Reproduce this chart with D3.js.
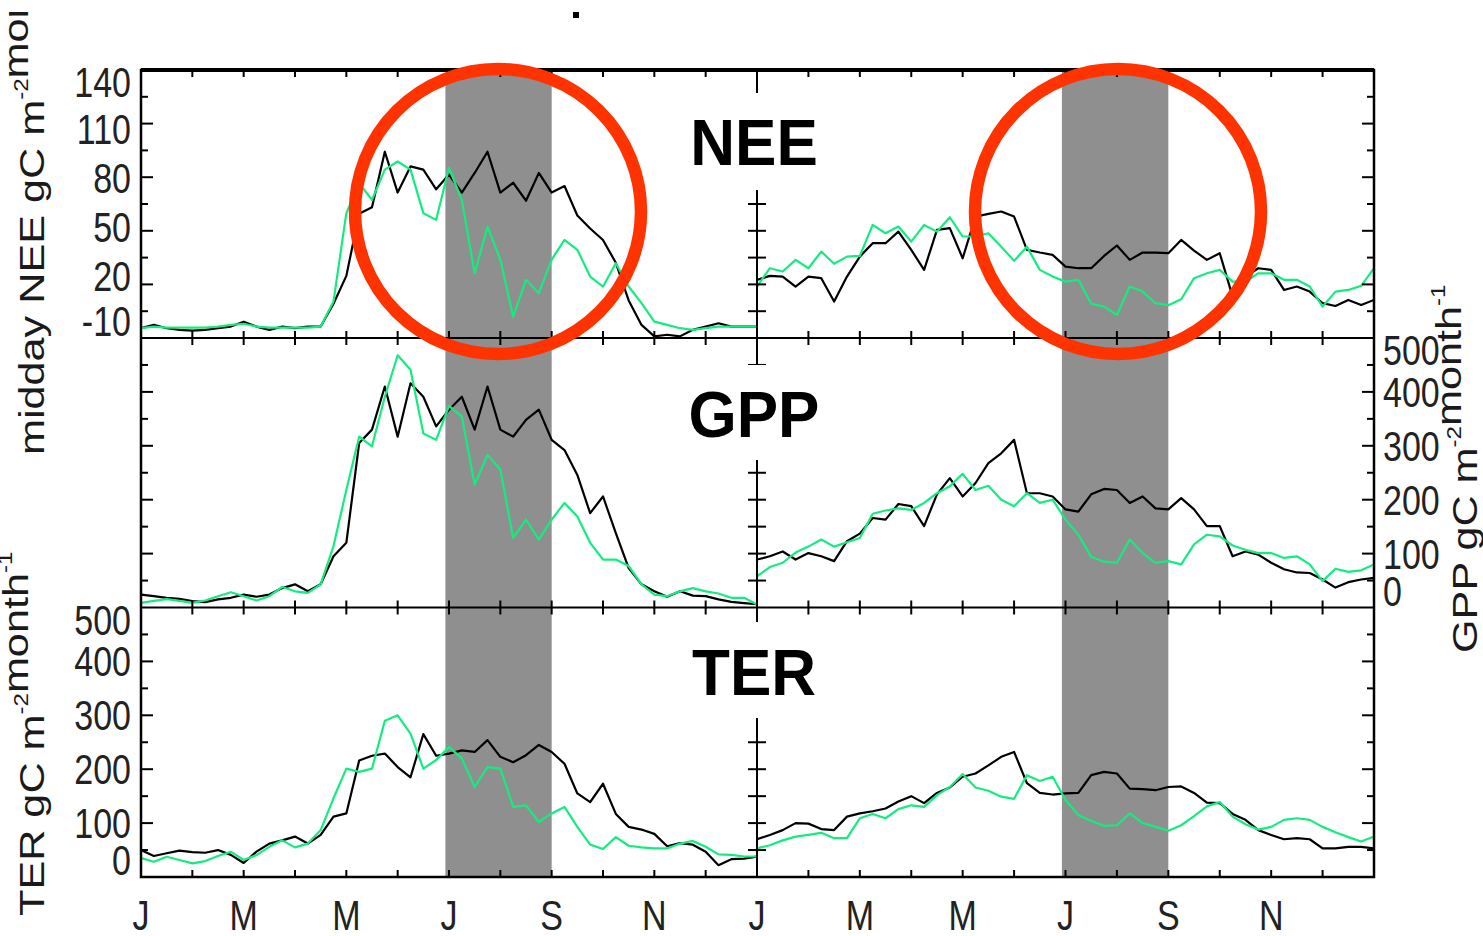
<!DOCTYPE html>
<html>
<head>
<meta charset="utf-8">
<script src="https://cdn.jsdelivr.net/npm/d3@7"></script>
<style>
  body { margin: 0; background: #fff; }
  svg { display: block; }
</style>
</head>
<body>
<div id="chart"></div>
<script>
// ===================== DATA =====================
// sample times: weeks within each year, in months from Jan 1
const sampleMonths = d3.range(0, 12.001, 0.25);

// midday NEE (left year / right year), black = observed, green = model
const neeLeftBlack = [-12,-10,-12,-13,-13.5,-13,-12,-11,-8,-11,-13,-11,-12,-11,-11,3,20,58,62,96,71,87,85,73,82,71,83,96,71,77,66,83,71,75,57,49,42,28,5,-10,-17,-16,-17,-13,-11,-9,-11,-11,-11];
const neeLeftGreen = [-12,-11,-11.6,-11.6,-11.6,-11.6,-11,-10,-9.3,-11,-11.6,-11.6,-11.6,-11.6,-11,4.3,58.4,76.8,66.5,85,90,85,58.4,54.3,86,66.5,21.6,50,30,-5,17.6,9.4,30,42,36,19.6,13.5,27.8,13.5,3.3,-8,-10,-12,-13,-12,-11,-11,-11,-11];
const neeRightBlack = [17.6,20,19.6,13.5,19.6,18.6,4.3,19.6,31.8,40,40,47.1,35.9,23.7,48.2,49.2,30.8,56.3,58,59.4,56.3,35.9,34.3,32.9,25.7,24.7,24.7,32.2,38.6,29.8,34.3,34.3,33.9,42,35.5,29.8,33.9,7.3,19.6,24.7,23.7,11.4,13.5,10.4,3.3,1.6,5.3,2.2,5.3];
const neeRightGreen = [13.5,24.7,22.7,29.8,24.7,34.9,27.4,31.8,32.2,51.2,46.1,50.2,41,51.2,47.1,55.9,44.1,44.1,46.1,37.9,29.2,37.9,23.7,19.6,16.5,17.6,2.9,1.2,-3.9,13.5,10.4,3.3,2.1,5.7,18.6,21.6,23.7,16.5,16.5,21.6,21.6,17.6,17.6,13.5,1.2,10.4,11.4,13.9,24.7];

// GPP gC m-2 month-1
const gppLeftBlack = [24,21,18,16,12,10,15,18,24,20,24,36,43,30,43,95,120,305,330,410,317,416,391,336,367,391,330,410,330,317,348,367,311,292,246,175,206,138,73,43,30,20,30,22,21,15,10.5,8,6];
const gppLeftGreen = [8.6,12.3,15.4,12.3,8.6,13,21,28.4,21,13,21,38,30,27,43,114,218,317,299,391,468,441,323,311,374,354,228,283,256,129,163,126,163,194,169,120,89,89,77,43,24,21,30,36,30,26,18,18,5.6];
const gppRightBlack = [89,95,104,89,101,95,86,123,137,166,163,192,188,151,210,240,206,231,268,286,311,212,212,206,182,178,210,220,218,194,206,184,182,203,182,151,151,95,104,98,83,71,65,64,52,37,47,52,55];
const gppRightGreen = [58,75,83,102,113,126,113,121,129,174,180,184,181,194,212,225,248,218,226,200,188,212,194,200,163,135,94,85,83,126,101,83,86,80,117,135,132,115,107,101,101,92,95,80,49,72,66,69,80];

// TER gC m-2 month-1
const terLeftBlack = [50,39,44,49,46,45,50,41,26,47,62,68,75,62,78,112,118,216,225,229,204,185,265,225,229,235,232,254,223,213,226,245,232,210,155,139,173,117,93,88,80,57,63,60,47,22,33,34,38];
const terLeftGreen = [35,28.4,37.6,31.5,25.3,29.6,38.9,47,31.5,40.7,56,68,55,62,87,146,201,195,201,290,300,266,201,217,241,220,167,204,201,130,133,102,118,130,93,60,52,74,58,55,53,53,62,67,56,42,41,38,38];
const terRightBlack = [70,78,87,100,99,89,87,112,118,122,127,140,150,137,156,166,186,192,207,223,232,174,156,153,155,156,189,195,192,164,163,161,167,168,156,138,137,117,106,87,78,70,72,70,53,53,56,56,53];
const terRightGreen = [53,59,68,75,78,82,72,72,109,117,109,126,133,130,152,167,191,166,160,149,145,189,178,186,143,115,104,95,96,118,100,93,86,96,113,131,139,112,98,88,93,106,109,106,93,83,74,66,75];

// axis ticks and labels
const neeTicks = [140, 110, 80, 50, 20, -10];
const fluxTicks = [500, 400, 300, 200, 100, 0];
const monthTicks = [0, 2, 4, 6, 8, 10];
const monthLabels = ["J", "M", "M", "J", "S", "N"];
const summerMonths = [5.93, 8];   // shaded Jul-Aug band

// ===================== LAYOUT =====================
const width = 1483, height = 936;
const x0 = 141, xMid = 757, x1 = 1374;
const frameTop = 70, frameBottom = 877;
const black = "#000", green = "#14ec80", red = "#ff3300";

const panels = [
  { name: "NEE", top: 70, bottom: 338, domain: [-18, 146], left: [neeLeftBlack, neeLeftGreen], right: [neeRightBlack, neeRightGreen], box: [93, 190], labelY: 165 },
  { name: "GPP", top: 338, bottom: 607.5, domain: [0, 500], left: [gppLeftBlack, gppLeftGreen], right: [gppRightBlack, gppRightGreen], box: [365, 460], labelY: 437 },
  { name: "TER", top: 607.5, bottom: 877, domain: [0, 500], left: [terLeftBlack, terLeftGreen], right: [terRightBlack, terRightGreen], box: [622, 718], labelY: 695 }
];

const xLeft = d3.scaleLinear().domain([0, 12]).range([x0, xMid]);
const xRight = d3.scaleLinear().domain([0, 12]).range([xMid, x1]);

const svg = d3.select("#chart").append("svg")
  .attr("width", width)
  .attr("height", height);

svg.append("rect").attr("width", width).attr("height", height).attr("fill", "#fff");

const defs = svg.append("defs");
defs.append("clipPath").attr("id", "clipLeft")
  .append("rect").attr("x", x0).attr("y", frameTop).attr("width", xMid - x0).attr("height", frameBottom - frameTop);
defs.append("clipPath").attr("id", "clipRight")
  .append("rect").attr("x", xMid).attr("y", frameTop).attr("width", x1 - xMid).attr("height", frameBottom - frameTop);
defs.append("clipPath").attr("id", "clipTitle")
  .append("rect").attr("x", 0).attr("y", 12).attr("width", 120).attr("height", 500);

// summer shading through all three rows
[xLeft, xRight].forEach(x => {
  svg.append("rect")
    .attr("x", x(summerMonths[0]))
    .attr("y", frameTop)
    .attr("width", x(summerMonths[1]) - x(summerMonths[0]))
    .attr("height", frameBottom - frameTop)
    .attr("fill", "#8f8f8f");
});

// ===================== LINES =====================
panels.forEach(p => {
  p.y = d3.scaleLinear().domain(p.domain).range([p.bottom, p.top]);
  [[xLeft, p.left, "clipLeft"], [xRight, p.right, "clipRight"]].forEach(([x, series, clip]) => {
    const line = d3.line()
      .x((d, i) => x(sampleMonths[i]))
      .y(d => p.y(d));
    const g = svg.append("g").attr("clip-path", `url(#${clip})`);
    g.append("path").attr("d", line(series[0]))
      .attr("fill", "none").attr("stroke", black).attr("stroke-width", 2.2)
      .attr("stroke-linejoin", "round");
    g.append("path").attr("d", line(series[1]))
      .attr("fill", "none").attr("stroke", green).attr("stroke-width", 2.2)
      .attr("stroke-linejoin", "round");
  });
});

// ===================== FRAME & TICKS =====================
const frame = svg.append("g").attr("stroke", "#000").attr("fill", "none");
frame.append("rect").attr("x", x0).attr("y", frameTop)
  .attr("width", x1 - x0).attr("height", frameBottom - frameTop).attr("stroke-width", 2.5);
frame.append("line").attr("x1", x0).attr("x2", x1).attr("y1", frameTop).attr("y2", frameTop).attr("stroke-width", 4);
panels.slice(1).forEach(p => {
  frame.append("line").attr("x1", x0).attr("x2", x1).attr("y1", p.top).attr("y2", p.top).attr("stroke-width", 2.2);
});
frame.append("line").attr("x1", xMid).attr("x2", xMid).attr("y1", frameTop).attr("y2", frameBottom).attr("stroke-width", 2);

const allMonths = d3.range(1, 12);
panels.forEach(p => {
  // month ticks, inward on top and bottom of each row
  [xLeft, xRight].forEach(x => {
    allMonths.forEach(m => {
      frame.append("line").attr("x1", x(m)).attr("x2", x(m))
        .attr("y1", p.top).attr("y2", p.top + 7).attr("stroke-width", 2);
      frame.append("line").attr("x1", x(m)).attr("x2", x(m))
        .attr("y1", p.bottom).attr("y2", p.bottom - 7).attr("stroke-width", 2);
    });
  });
  // value ticks every tenth of the row
  const tickScale = d3.scaleLinear().domain([0, 10]).range([p.bottom, p.top]);
  d3.range(1, 10).forEach(k => {
    const yy = tickScale(k);
    const len = k % 2 === 0 ? 12 : 7;
    frame.append("line").attr("x1", x0).attr("x2", x0 + len).attr("y1", yy).attr("y2", yy).attr("stroke-width", 2);
    frame.append("line").attr("x1", x1).attr("x2", x1 - len).attr("y1", yy).attr("y2", yy).attr("stroke-width", 2);
    frame.append("line").attr("x1", xMid - 9).attr("x2", xMid + 9).attr("y1", yy).attr("y2", yy).attr("stroke-width", 2);
  });
});

// white label boxes hide the middle divider
panels.forEach(p => {
  svg.append("rect").attr("x", 672).attr("y", p.box[0])
    .attr("width", 166).attr("height", p.box[1] - p.box[0]).attr("fill", "#fff");
  svg.append("text")
    .attr("transform", `translate(754,${p.labelY}) scale(1,1.06)`)
    .attr("text-anchor", "middle")
    .attr("font-family", "Liberation Sans, Arial, sans-serif")
    .attr("font-weight", "bold")
    .attr("font-size", 62)
    .attr("fill", "#000")
    .text(p.name);
});

// ===================== AXIS LABELS =====================
const tickFont = "Liberation Sans, Arial, sans-serif";
function tickLabel(x, y, anchor, txt) {
  svg.append("text")
    .attr("transform", `translate(${x},${y}) scale(1,1.23)`)
    .attr("text-anchor", anchor)
    .attr("dy", "0.36em")
    .attr("font-family", tickFont)
    .attr("font-size", 34)
    .attr("fill", "#222")
    .text(txt);
}
const clampY = (p, v) => Math.min(Math.max(p.y(v), p.top + 12), p.bottom - 17);

neeTicks.forEach(v => tickLabel(131, clampY(panels[0], v), "end", v));
fluxTicks.forEach(v => tickLabel(1383, clampY(panels[1], v), "start", v));
fluxTicks.forEach(v => tickLabel(131, clampY(panels[2], v), "end", v));

[xLeft, xRight].forEach(x => {
  monthTicks.forEach((m, i) => {
    svg.append("text")
      .attr("transform", `translate(${x(m)},930) scale(1,1.23)`)
      .attr("text-anchor", "middle")
      .attr("font-family", tickFont)
      .attr("font-size", 34)
      .attr("fill", "#222")
      .text(monthLabels[i]);
  });
});

// rotated axis titles
function axisTitle(x, y, parts, clip) {
  const g = svg.append("g");
  if (clip) g.attr("clip-path", `url(#${clip})`);
  const t = g.append("text")
    .attr("transform", `translate(${x},${y}) rotate(-90) scale(1.2,1)`)
    .attr("font-family", tickFont)
    .attr("font-size", 36)
    .attr("fill", "#1a1a1a");
  parts.forEach(([txt, sup]) => {
    if (sup) {
      t.append("tspan").attr("font-size", 20).attr("dy", -16).text(txt);
      t.append("tspan").attr("dy", 16).text("");
    } else {
      t.append("tspan").text(txt);
    }
  });
}
axisTitle(44, 455, [["midday NEE gC m"], ["-2", true], ["mon"]], "clipTitle");
axisTitle(44, 916, [["TER gC m"], ["-2", true], ["month"], ["-1", true]]);
axisTitle(1477, 653, [["GPP gC m"], ["-2", true], ["month"], ["-1", true]]);

// stray mark at the top of the figure
svg.append("rect").attr("x", 573).attr("y", 12).attr("width", 6).attr("height", 6).attr("fill", "#000");

// ===================== HIGHLIGHT CIRCLES =====================
[498, 1118].forEach(cx => {
  svg.append("ellipse")
    .attr("cx", cx)
    .attr("cy", 211.5)
    .attr("rx", 143)
    .attr("ry", 142.5)
    .attr("fill", "none")
    .attr("stroke", red)
    .attr("stroke-width", 12.5);
});
</script>
</body>
</html>
